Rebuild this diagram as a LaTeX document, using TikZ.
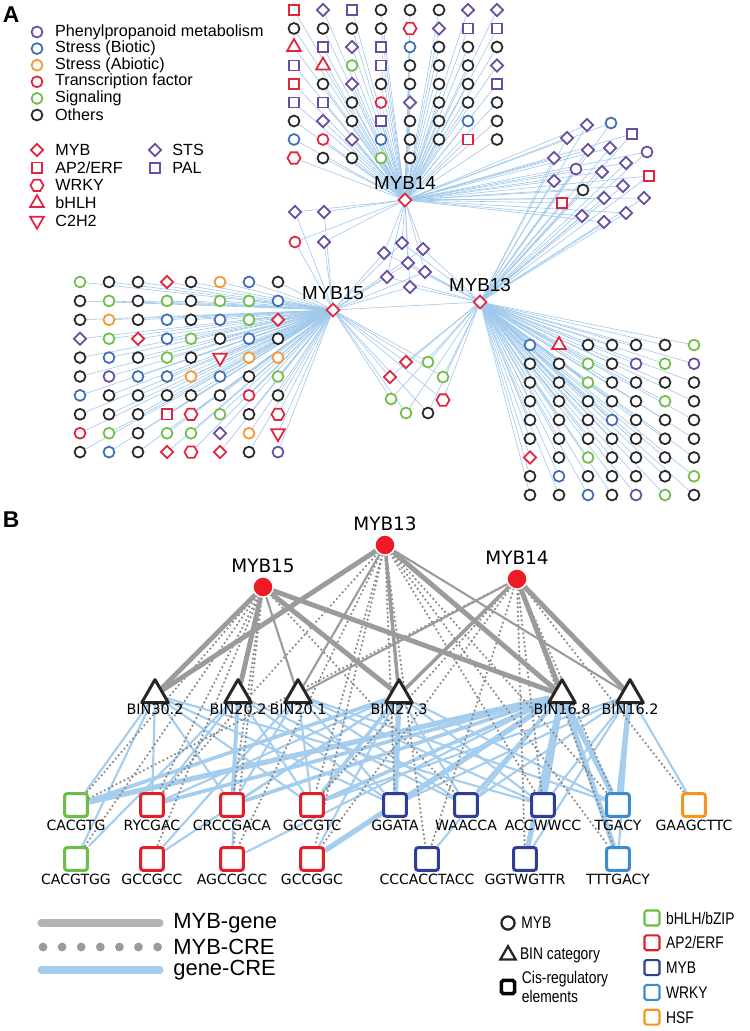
\documentclass[tikz,border=0pt]{standalone}
\usepackage{fontspec}
\setmainfont{Liberation Sans}
\newfontfamily\dejavu{DejaVu Sans}
\newfontfamily\narrowsf[FakeStretch=0.82]{Liberation Sans}
\usetikzlibrary{shapes.geometric,positioning,backgrounds}

\definecolor{colP}{RGB}{104,78,160}
\definecolor{colB}{RGB}{62,110,180}
\definecolor{colO}{RGB}{242,152,52}
\definecolor{colR}{RGB}{226,36,62}
\definecolor{colG}{RGB}{112,190,72}
\definecolor{colK}{RGB}{40,40,40}
\definecolor{edgeblue}{RGB}{160,200,235}
\definecolor{mybred}{RGB}{237,28,36}
\definecolor{linegray}{RGB}{155,155,155}
\definecolor{dotgray}{RGB}{135,135,135}
\definecolor{crelight}{RGB}{165,205,238}
\definecolor{creG}{RGB}{106,189,69}
\definecolor{creR}{RGB}{228,30,38}
\definecolor{creM}{RGB}{46,62,149}
\definecolor{creW}{RGB}{60,140,205}
\definecolor{creH}{RGB}{247,148,29}

\tikzset{
  mk/.style={inner sep=0pt,line width=1pt,fill=white},
  ci/.style={mk,circle,minimum size=6.2pt},
  dm/.style={mk,diamond,minimum size=7.4pt},
  sq/.style={mk,rectangle,minimum size=5.8pt},
  hx/.style={mk,regular polygon,regular polygon sides=6,minimum size=7.4pt},
  tr/.style={mk,regular polygon,regular polygon sides=3,minimum size=9pt},
  vt/.style={tr,shape border rotate=180},
  hub/.style={mk,diamond,minimum size=7.8pt,draw=colR},
  hublab/.style={font=\fontsize{10.7}{12}\selectfont,inner sep=1pt},
  leg/.style={font=\fontsize{9.2}{10}\selectfont,anchor=west,inner sep=0pt},
  plab/.style={font=\bfseries\fontsize{13}{14}\selectfont,inner sep=0pt},
  ea/.style={edgeblue,line width=0.35pt},
  myb/.style={circle,fill=mybred,draw=white,line width=0.8pt,minimum size=11.5pt,inner sep=0pt},
  blab/.style={font=\dejavu\fontsize{10.5}{12}\selectfont,inner sep=1pt},
  bin/.style={regular polygon,regular polygon sides=3,minimum size=17.5pt,inner sep=0pt,
    draw=black!85,line width=1.7pt,fill=white,line join=round},
  binlab/.style={font=\dejavu\fontsize{8.2}{9}\selectfont,inner sep=1pt},
  cre/.style={rectangle,rounded corners=1.5pt,minimum size=13pt,inner sep=0pt,line width=1.7pt,fill=white},
  crelab/.style={font=\dejavu\fontsize{8}{9}\selectfont,inner sep=1pt},
  gsolid/.style={linegray,line cap=round},
  gdot/.style={dotgray,line width=1.4pt,line cap=round,dash pattern=on 0pt off 2.5pt},
  gblue/.style={crelight},
  lgb/.style={font=\fontsize{12.5}{13}\selectfont,anchor=west,inner sep=0pt},
  lgn/.style={font=\narrowsf\fontsize{9.6}{10.5}\selectfont,anchor=west,inner sep=0pt,align=left},
  lbox/.style={rectangle,rounded corners=1pt,minimum size=8.5pt,inner sep=0pt,line width=1.2pt}
}

\begin{document}
\begin{tikzpicture}[x=0.02cm,y=-0.02cm]
\useasboundingbox (0,0) rectangle (750,1031);

\node[plab] (pa) at (11,15) {A};

\foreach \co/\txt [count=\i] in {P/Phenylpropanoid metabolism,B/Stress (Biotic),O/Stress (Abiotic),R/Transcription factor,G/Signaling,K/Others}{
  \node[ci,draw=col\co] (lc\i) at (37,{32+16.6*(\i-1)}) {};
  \node[leg,right=6.5pt of lc\i] (lt\i) {\txt};
}
\foreach \sh/\txt [count=\i] in {dm/MYB,sq/{AP2/ERF},hx/WRKY,tr/bHLH,vt/C2H2}{
  \node[\sh,draw=colR] (ls\i) at (37,{150+17.7*(\i-1)}) {};
  \node[leg] (lu\i) at (55,{150+17.7*(\i-1)}) {\txt};
}
\node[dm,draw=colP] (lsts) at (155,150) {};
\node[leg] (lstst) at (172,150) {STS};
\node[sq,draw=colP] (lpal) at (155,168) {};
\node[leg] (lpalt) at (172,168) {PAL};

\node[hub] (m14) at (405,200) {};
\node[hublab,above=0.5pt of m14] (m14l) {MYB14};
\node[hub] (m15) at (333,310) {};
\node[hublab,above=0.5pt of m15] (m15l) {MYB15};
\node[hub] (m13) at (480,302) {};
\node[hublab,above=0.5pt of m13] (m13l) {MYB13};

\foreach \row [count=\r] in {
  {sq/R,dm/P,sq/P,ci/K,ci/K,ci/K,dm/P,dm/P},
  {ci/K,ci/K,ci/K,ci/K,hx/R,dm/P,sq/P,sq/P},
  {tr/R,sq/P,dm/P,sq/P,ci/B,ci/K,ci/K,ci/K},
  {sq/P,tr/R,ci/G,sq/P,ci/K,ci/K,ci/K,dm/P},
  {sq/R,ci/K,dm/P,ci/K,ci/K,ci/K,ci/K,sq/P},
  {sq/P,sq/P,ci/K,ci/R,dm/P,ci/K,ci/K,ci/K},
  {ci/K,dm/P,ci/K,sq/P,ci/K,ci/K,ci/B,ci/K},
  {ci/B,ci/R,dm/P,ci/B,ci/K,ci/K,sq/R,ci/K},
  {hx/R,ci/K,ci/K,ci/G,ci/K}}{
  \foreach \sh/\co [count=\i] in \row {
    \node[\sh,draw=col\co] (p-\r-\i) at ({294+29*(\i-1)},{10+18.5*(\r-1)}) {};
  }
}

\foreach \row [count=\r] in {
  {ci/G,ci/K,ci/K,dm/R,ci/K,ci/O,ci/B,ci/K},
  {ci/K,ci/G,ci/K,ci/G,ci/K,ci/G,ci/G,ci/B},
  {ci/K,ci/O,ci/K,ci/B,ci/K,ci/B,ci/G,dm/R},
  {dm/P,ci/G,dm/R,ci/B,ci/G,ci/K,ci/B,ci/K},
  {ci/K,ci/B,ci/K,ci/G,ci/K,vt/R,ci/O,ci/O},
  {ci/K,ci/P,ci/B,ci/B,ci/O,ci/B,ci/K,ci/G},
  {ci/B,ci/K,ci/K,ci/K,ci/K,ci/K,ci/R,ci/K},
  {ci/K,ci/K,ci/K,sq/R,hx/R,ci/G,ci/K,hx/R},
  {ci/R,ci/G,ci/K,ci/G,ci/G,dm/P,ci/O,vt/R},
  {ci/K,ci/B,ci/K,dm/R,hx/R,dm/R,ci/K,ci/P}}{
  \foreach \sh/\co [count=\i] in \row {
    \node[\sh,draw=col\co] (f-\r-\i) at ({80+29*(\i-1)-5*(\i>4)},{282+18.9*(\r-1)}) {};
  }
}

\foreach \row [count=\r] in {
  {ci/B,tr/R,ci/K,ci/K,ci/K,ci/K,ci/G},
  {ci/K,ci/K,ci/G,ci/K,ci/P,ci/G,ci/P},
  {ci/K,ci/K,ci/G,ci/K,ci/K,ci/K,ci/K},
  {ci/K,ci/K,ci/K,ci/K,ci/K,ci/G,ci/K},
  {ci/K,ci/K,ci/K,ci/B,ci/K,ci/K,ci/K},
  {ci/K,ci/K,ci/K,ci/K,ci/K,ci/K,ci/K},
  {dm/R,ci/K,ci/G,ci/K,ci/K,ci/K,ci/K},
  {ci/K,ci/B,ci/K,ci/K,ci/K,ci/K,ci/G},
  {ci/K,ci/K,ci/B,ci/K,ci/P,ci/G,ci/K}}{
  \foreach \sh/\co [count=\i] in \row {
    \node[\sh,draw=col\co] (t-\r-\i) at ({530+29*(\i-1)-5*(\i>3)-5*(\i>4)},{345+18.75*(\r-1)}) {};
  }
}

\foreach \sh/\co/\x/\y [count=\i] in {dm/P/587/125,ci/B/611/123,dm/P/567/138,sq/P/632/134,
  dm/P/588/150,dm/P/610/148,ci/P/647/152,dm/P/554/158,ci/P/576/169,dm/P/602/172,dm/P/626/163,
  sq/R/649/176,dm/P/554/181,ci/K/583/190,dm/P/623/186,dm/P/604/198,dm/P/644/198,sq/R/562/203,
  dm/P/582/216,dm/P/626/213,dm/P/604/222}{
  \node[\sh,draw=col\co] (r-\i) at (\x,\y) {};
}
\foreach \sh/\co/\x/\y [count=\i] in {dm/P/295/212,dm/P/324/212,ci/R/295/242,dm/P/324/242}{
  \node[\sh,draw=col\co] (l-\i) at (\x,\y) {};
}
\foreach \sh/\co/\x/\y [count=\i] in {dm/P/402/243,dm/P/423/249,dm/P/384/253,dm/P/408/263,
  dm/P/425/272,dm/P/387/277,dm/P/410/287}{
  \node[\sh,draw=col\co] (c-\i) at (\x,\y) {};
}
\foreach \sh/\co/\x/\y [count=\i] in {dm/R/406/362,ci/G/428/362,dm/R/390/377,ci/G/443/377,
  ci/G/391/399,hx/R/443/400,ci/G/406/413,ci/K/428/413}{
  \node[\sh,draw=col\co] (d-\i) at (\x,\y) {};
}

\begin{scope}[on background layer]
  \draw[ea] (m15) -- (m13);
  \foreach \r/\n in {1/8,2/8,3/8,4/8,5/8,6/8,7/8,8/8,9/5}
    \foreach \i in {1,...,\n} \draw[ea] (p-\r-\i) -- (m14);
  \foreach \r in {1,...,10}
    \foreach \i in {1,...,8} \draw[ea] (f-\r-\i) -- (m15);
  \foreach \r in {1,...,9}
    \foreach \i in {1,...,7} \draw[ea] (t-\r-\i) -- (m13);
  \foreach \i in {1,...,21} \draw[ea] (r-\i) -- (m14) (r-\i) -- (m13);
  \foreach \i in {1,...,4} \draw[ea] (l-\i) -- (m14) (l-\i) -- (m15);
  \foreach \i in {1,...,7} \draw[ea] (c-\i) -- (m14) (c-\i) -- (m15) (c-\i) -- (m13);
  \foreach \i in {1,...,8} \draw[ea] (d-\i) -- (m15) (d-\i) -- (m13);
\end{scope}

\node[plab] (pb) at (11,520) {B};

\node[myb] (b13) at (385,545) {};
\node[blab,above=1pt of b13] (b13l) {MYB13};
\node[myb] (b15) at (263,587) {};
\node[blab,above=1pt of b15] (b15l) {MYB15};
\node[myb] (b14) at (517,579) {};
\node[blab,above=1pt of b14] (b14l) {MYB14};

\foreach \n/\x/\t in {t302/155/BIN30.2,t202/238/BIN20.2,t201/298/BIN20.1,t273/399/BIN27.3,
  t168/562/BIN16.8,t162/630/BIN16.2}{
  \node[bin] (\n) at (\x,695) {};
  \node[binlab,below=-1.5pt of \n] (\n-l) {\t};
}

\foreach \n/\x/\y/\co/\t in {c1/76/805/G/CACGTG,c2/152/805/R/RYCGAC,c3/232/805/R/CRCCGACA,
  c4/312/805/R/GCCGTC,c5/395/805/M/GGATA,c6/466/805/M/WAACCA,c7/543/805/M/ACCWWCC,
  c8/618/805/W/TGACY,c9/694/805/H/GAAGCTTC,d1/76/859/G/CACGTGG,d2/152/859/R/GCCGCC,
  d3/232/859/R/AGCCGCC,d4/312/859/R/GCCGGC,d5/427/859/M/CCCACCTACC,d6/525/859/M/GGTWGTTR,
  d7/618/859/W/TTTGACY}{
  \node[cre,draw=cre\co] (\n) at (\x,\y) {};
  \node[crelab,below=0pt of \n] (\n-l) {\t};
}

\begin{scope}[on background layer]
  \foreach \f/\t/\w in {t302/c1/1,t302/c2/1,t302/c3/1,t302/c4/1,t302/c5/1,t302/c7/1,t302/d1/1,
    t202/c2/1,t202/c3/2,t202/c4/1,t202/c5/1,t202/c6/1,t202/d1/1,t202/d3/1,
    t201/c3/1,t201/c4/1,t201/c5/1,t201/c6/1,t201/c7/1,t201/d2/1,t201/c8/1,
    t273/c1/2,t273/c2/1,t273/c3/1,t273/c4/2,t273/c5/3,t273/c6/1,t273/c7/1,t273/c8/1,t273/d2/1,t273/d4/1,
    t168/c1/3,t168/c2/2,t168/c3/2,t168/c4/2,t168/c5/3,t168/c6/2,t168/c7/3,t168/c8/3,t168/d4/3,
    t168/d5/1,t168/d6/3,t168/d7/3,t168/d3/1,
    t162/c4/1,t162/c5/1,t162/c6/1,t162/c7/1,t162/c8/3,t162/c9/1,t162/d6/1,t162/d7/1}{
    \pgfmathsetmacro\lw{0.3+0.9*\w}
    \draw[gblue,line width=\lw pt] (\f) -- (\t);
  }
  \foreach \f/\t in {b15/c1,b15/d1,b15/c2,b15/d2,b15/c3,b15/d3,b15/c6,
    b13/c2,b13/c4,b13/d4,b13/c5,b13/d5,b13/c7,b13/c8,b13/d7,b13/d3,
    b14/c1,b14/d4,b14/c4,b14/d5,b14/d6,b14/c7,b14/d7,b14/c9,b14/c8}{
    \draw[gdot] (\f) -- (\t);
  }
  \foreach \f/\t/\w in {b15/t302/3,b15/t202/3,b15/t201/1,b15/t273/3,b15/t168/3,
    b13/t302/3,b13/t201/1,b13/t273/2,b13/t168/3,b13/t162/1,
    b14/t201/1,b14/t273/2,b14/t168/3,b14/t162/3}{
    \pgfmathsetmacro\lw{0.4+0.8*\w}
    \draw[gsolid,line width=\lw pt] (\f) -- (\t);
  }
\end{scope}

\coordinate (g1a) at (41,923);
\coordinate (g1b) at (160,923);
\coordinate (g2a) at (43,947);
\coordinate (g2b) at (158,947);
\coordinate (g3a) at (41,970);
\coordinate (g3b) at (160,970);
\draw[linegray!75,line width=4pt,line cap=round] (g1a) -- (g1b);
\draw[linegray,line width=5pt,line cap=round,dash pattern=on 0pt off 10.87pt] (g2a) -- (g2b);
\draw[crelight,line width=4pt,line cap=round] (g3a) -- (g3b);
\node[lgb] (g1t) at (173,923) {MYB-gene};
\node[lgb] (g2t) at (173,947) {MYB-CRE};
\node[lgb] (g3t) at (173,970) {gene-CRE};

\node[circle,draw=black!85,line width=1.3pt,minimum size=7.5pt,inner sep=0pt] (k1) at (508,923) {};
\node[lgn,right=3pt of k1] (k1t) {MYB};
\node[regular polygon,regular polygon sides=3,draw=black!85,line width=1.3pt,minimum size=10pt,inner sep=0pt] (k2) at (508,955) {};
\node[lgn,right=3pt of k2] (k2t) {BIN category};
\node[rectangle,rounded corners=1pt,draw=black,line width=2pt,minimum size=7.5pt,inner sep=0pt] (k3) at (508,987) {};
\node[lgn,right=3pt of k3] (k3t) {Cis-regulatory\\elements};

\foreach \co/\t [count=\i] in {G/{bHLH/bZIP},R/{AP2/ERF},M/MYB,W/WRKY,H/HSF}{
  \node[lbox,draw=cre\co] (q\i) at (652,{918+24.8*(\i-1)}) {};
  \node[lgn,right=3pt of q\i] (q\i t) {\t};
}
\end{tikzpicture}
\end{document}
